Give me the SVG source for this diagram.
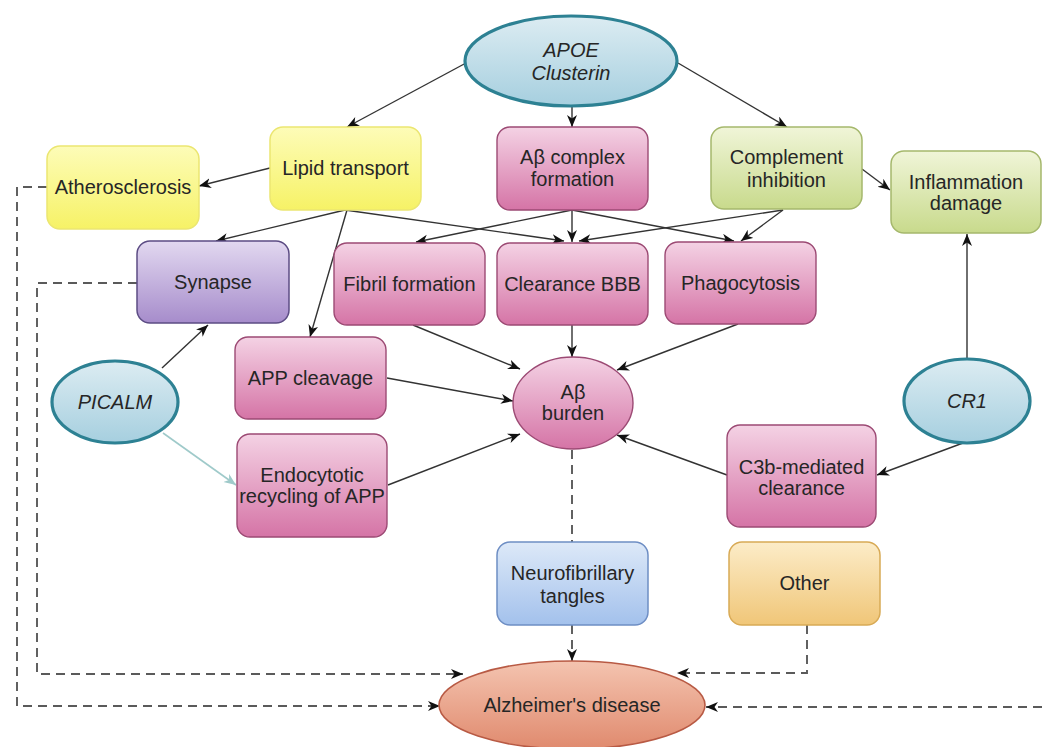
<svg xmlns="http://www.w3.org/2000/svg" width="1042" height="747" viewBox="0 0 1042 747">
<defs>
<linearGradient id="gBlue" x1="0" y1="0" x2="0" y2="1"><stop offset="0" stop-color="#dcecf2"/><stop offset="1" stop-color="#a6cfdf"/></linearGradient>
<linearGradient id="gYellow" x1="0" y1="0" x2="0" y2="1"><stop offset="0" stop-color="#fdfcb8"/><stop offset="1" stop-color="#f6f266"/></linearGradient>
<linearGradient id="gPink" x1="0" y1="0" x2="0" y2="1"><stop offset="0" stop-color="#f4d2e4"/><stop offset="1" stop-color="#d574a6"/></linearGradient>
<linearGradient id="gGreen" x1="0" y1="0" x2="0" y2="1"><stop offset="0" stop-color="#f0f5d8"/><stop offset="1" stop-color="#c8da8c"/></linearGradient>
<linearGradient id="gPurple" x1="0" y1="0" x2="0" y2="1"><stop offset="0" stop-color="#e2d8f0"/><stop offset="1" stop-color="#a68ccb"/></linearGradient>
<linearGradient id="gNft" x1="0" y1="0" x2="0" y2="1"><stop offset="0" stop-color="#dde9f8"/><stop offset="1" stop-color="#a3c1ec"/></linearGradient>
<linearGradient id="gOrange" x1="0" y1="0" x2="0" y2="1"><stop offset="0" stop-color="#fcecc8"/><stop offset="1" stop-color="#f0c678"/></linearGradient>
<linearGradient id="gAD" x1="0" y1="0" x2="0" y2="1"><stop offset="0" stop-color="#f4c4b0"/><stop offset="1" stop-color="#e08a6e"/></linearGradient>
<marker id="ah" markerUnits="userSpaceOnUse" markerWidth="14" markerHeight="11" refX="12" refY="5" orient="auto"><path d="M0,0 L12,5 L0,10 L3.5,5 z" fill="#111"/></marker>
<marker id="ahT" markerUnits="userSpaceOnUse" markerWidth="14" markerHeight="11" refX="12" refY="5" orient="auto"><path d="M0,0 L12,5 L0,10 L3.5,5 z" fill="#9fcaca"/></marker>
<style>
.t{font-family:"Liberation Sans",Arial,sans-serif;font-size:20px;fill:#262626;text-anchor:middle}
.i{font-style:italic}
.c{fill:none;stroke:#333;stroke-width:1.4;marker-end:url(#ah)}
.d{fill:none;stroke:#5a5a5a;stroke-width:1.9;stroke-dasharray:9,6}
.da{marker-end:url(#ah)}
.ell{stroke:#2d8193;stroke-width:3.2;fill:url(#gBlue)}
.yel{fill:url(#gYellow);stroke:#ebe671;stroke-width:1.5}
.pnk{fill:url(#gPink);stroke:#9c4a74;stroke-width:1.4}
.grn{fill:url(#gGreen);stroke:#a5b86c;stroke-width:1.5}
.pur{fill:url(#gPurple);stroke:#5c4c84;stroke-width:1.5}
.nft{fill:url(#gNft);stroke:#6e8ec4;stroke-width:1.5}
.org{fill:url(#gOrange);stroke:#d8aa56;stroke-width:1.5}
.ad{fill:url(#gAD);stroke:#b85a44;stroke-width:1.6}
</style>
</defs>
<rect width="1042" height="747" fill="#fff"/>

<g id="connectors">
<line class="c" x1="466" y1="63" x2="347" y2="127"/>
<line class="c" x1="572" y1="107" x2="572" y2="127"/>
<line class="c" x1="678" y1="63" x2="787" y2="127"/>
<line class="c" x1="270" y1="168" x2="199" y2="186"/>
<line class="c" x1="345" y1="210" x2="216" y2="241"/>
<line class="c" x1="347" y1="210" x2="310" y2="337"/>
<line class="c" x1="345" y1="210" x2="564" y2="241"/>
<line class="c" x1="572" y1="210" x2="416" y2="242"/>
<line class="c" x1="572" y1="210" x2="572" y2="242"/>
<line class="c" x1="572" y1="210" x2="734" y2="241"/>
<line class="c" x1="783" y1="210" x2="579" y2="241"/>
<line class="c" x1="783" y1="210" x2="741" y2="241"/>
<line class="c" x1="862" y1="169" x2="890" y2="190"/>
<line class="c" x1="967" y1="359" x2="967" y2="234"/>
<line class="c" x1="963" y1="443" x2="877" y2="475"/>
<line class="c" x1="727" y1="475" x2="617" y2="435"/>
<line class="c" x1="738" y1="324" x2="617" y2="370"/>
<line class="c" x1="572" y1="325" x2="572" y2="357"/>
<line class="c" x1="413" y1="325" x2="520" y2="369"/>
<line class="c" x1="387" y1="378" x2="513" y2="401"/>
<line class="c" x1="388" y1="485" x2="520" y2="434"/>
<line class="c" x1="162" y1="368" x2="208" y2="325"/>
<line x1="163" y1="433" x2="236" y2="485" stroke="#9fcaca" stroke-width="1.6" marker-end="url(#ahT)"/>
<line class="d" x1="572" y1="450" x2="572" y2="542"/>
<line class="d da" x1="572" y1="625" x2="572" y2="661"/>
<polyline class="d da" points="807,625 807,673 677,673"/>
<line class="d da" x1="1042" y1="707" x2="706" y2="707"/>
<polyline class="d da" points="47,187 17,187 17,706 440,706"/>
<polyline class="d da" points="137,283 37,283 37,674 463,674"/>
</g>

<g id="apoe"><ellipse class="ell" cx="571" cy="61" rx="106" ry="45"/><text class="t i" x="571" y="57">APOE</text><text class="t i" x="571" y="80">Clusterin</text></g>
<g id="lipid"><rect class="yel" x="270" y="127" width="151" height="83" rx="13"/><text class="t" x="345.5" y="175">Lipid transport</text></g>
<g id="athero"><rect class="yel" x="47" y="146" width="152" height="83" rx="13"/><text class="t" x="123" y="194">Atherosclerosis</text></g>
<g id="abcomplex"><rect class="pnk" x="497" y="127" width="151" height="83" rx="13"/><text class="t" x="572.5" y="164">Aβ complex</text><text class="t" x="572.5" y="186">formation</text></g>
<g id="complement"><rect class="grn" x="711" y="127" width="151" height="82" rx="13"/><text class="t" x="786.5" y="164">Complement</text><text class="t" x="786.5" y="187">inhibition</text></g>
<g id="inflammation"><rect class="grn" x="891" y="151" width="150" height="82" rx="13"/><text class="t" x="966" y="189">Inflammation</text><text class="t" x="966" y="210">damage</text></g>
<g id="synapse"><rect class="pur" x="137" y="241" width="152" height="82" rx="13"/><text class="t" x="213" y="289">Synapse</text></g>
<g id="fibril"><rect class="pnk" x="334" y="243" width="151" height="82" rx="13"/><text class="t" x="409.5" y="291">Fibril formation</text></g>
<g id="clearance"><rect class="pnk" x="497" y="243" width="151" height="82" rx="13"/><text class="t" x="572.5" y="291">Clearance BBB</text></g>
<g id="phago"><rect class="pnk" x="665" y="242" width="151" height="82" rx="13"/><text class="t" x="740.5" y="290">Phagocytosis</text></g>
<g id="appcleavage"><rect class="pnk" x="235" y="337" width="151" height="82" rx="13"/><text class="t" x="310.5" y="385">APP cleavage</text></g>
<g id="endocytotic"><rect class="pnk" x="237" y="434" width="150" height="103" rx="13"/><text class="t" x="312" y="482">Endocytotic</text><text class="t" x="312" y="503">recycling of APP</text></g>
<g id="picalm"><ellipse class="ell" cx="115" cy="402" rx="63" ry="41"/><text class="t i" x="115" y="409">PICALM</text></g>
<g id="abburden"><ellipse class="pnk" cx="573" cy="403" rx="60" ry="46"/><text class="t" x="573" y="399">Aβ</text><text class="t" x="573" y="420">burden</text></g>
<g id="cr1"><ellipse class="ell" cx="967" cy="401" rx="63" ry="42"/><text class="t i" x="967" y="408">CR1</text></g>
<g id="c3b"><rect class="pnk" x="727" y="425" width="149" height="102" rx="13"/><text class="t" x="801.5" y="474">C3b-mediated</text><text class="t" x="801.5" y="495">clearance</text></g>
<g id="nft"><rect class="nft" x="497" y="542" width="151" height="83" rx="13"/><text class="t" x="572.5" y="580">Neurofibrillary</text><text class="t" x="572.5" y="603">tangles</text></g>
<g id="other"><rect class="org" x="729" y="542" width="151" height="83" rx="13"/><text class="t" x="804.5" y="590">Other</text></g>
<g id="ad"><ellipse class="ad" cx="572" cy="705" rx="133" ry="44"/><text class="t" x="572" y="712">Alzheimer's disease</text></g>
</svg>
